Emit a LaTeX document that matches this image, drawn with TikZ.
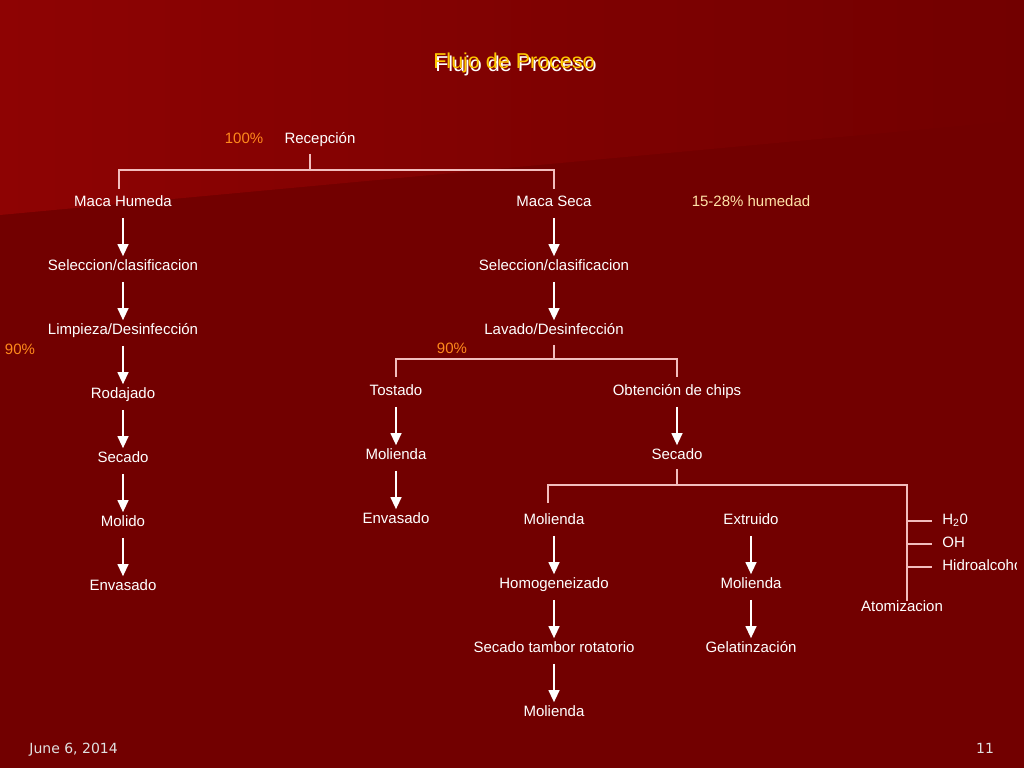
\documentclass[tikz,border=0pt]{standalone}
\usepackage{fontspec}
\setmainfont{Liberation Sans}
\newfontfamily\footfont{DejaVu Sans}
\usetikzlibrary{arrows.meta}
\definecolor{bgdark}{HTML}{720000}
\definecolor{bglight}{HTML}{8E0303}
\definecolor{treecol}{HTML}{F2BDBD}
\definecolor{pct}{HTML}{FF8A1C}
\definecolor{hum}{HTML}{FFE3A8}
\definecolor{titley}{HTML}{FFC800}
\tikzset{every picture/.style={line width=0.75pt}}

\begin{document}
\begin{tikzpicture}[x=1pt,y=-1pt,node distance=64pt,
    every node/.style={text=white,inner sep=0pt,text height=10pt,text depth=3pt,font=\fontsize{15}{17}\selectfont},
    flow/.style={-{Triangle[width=11pt,length=12pt]},draw=white,fill=white,line width=1.3pt,shorten <=8pt,shorten >=4pt},
    tree/.style={draw=treecol,line width=1.4pt},
    pc/.style={text=pct}]
        % background
        \useasboundingbox (0,0) rectangle (1024,768);
        \fill[bgdark] (0,0) rectangle (1024,768);
        \shade[left color=bglight,right color=bgdark] (0,0) -- (1024,0) -- (1024,120) -- (0,215) -- cycle;

        % title
        \node[text=white,font=\fontsize{21.5}{24}\selectfont] (tw) at (516,68) {Flujo de Proceso};
        \node[text=titley,font=\fontsize{21.5}{24}\selectfont] (ty) at (514,65) {Flujo de Proceso};

        \node (rec) at (320,140) {Recepción};
        \node[pc] (p100) at (244,140) {100\%};

        % maca humeda
        \node (mh) at (123,203) {Maca Humeda};
        \node[below of=mh] (sel1) {Seleccion/clasificacion};
        \node[below of=sel1] (lim) {Limpieza/Desinfección};
        \node[below of=lim] (rod) {Rodajado};
        \node[below of=rod] (sec1) {Secado};
        \node[below of=sec1] (mol1) {Molido};
        \node[below of=mol1] (env1) {Envasado};
        \node[pc] (p90a) at (20,351) {90\%};

        % maca seca
        \node (ms) at (554,203) {Maca Seca};
        \node[text=hum] (hmd) at (751,203) {15-28\% humedad};
        \node[below of=ms] (sel2) {Seleccion/clasificacion};
        \node[below of=sel2] (lav) {Lavado/Desinfección};
        \node[pc] (p90b) at (452,350) {90\%};
        \node (tos) at (396,392) {Tostado};
        \node[below of=tos] (mol2) {Molienda};
        \node[below of=mol2] (env2) {Envasado};
        \node (chp) at (677,392) {Obtención de chips};
        \node[below of=chp] (sec2) {Secado};
        \node (mol3) at (554,521) {Molienda};
        \node[below of=mol3] (hom) {Homogeneizado};
        \node[below of=hom] (tam) {Secado tambor rotatorio};
        \node[below of=tam] (mol4) {Molienda};
        \node (ext) at (751,521) {Extruido};
        \node[below of=ext] (mol5) {Molienda};
        \node[below of=mol5] (gel) {Gelatinzación};
        \node (ato) at (902,608) {Atomizacion};
        \node[anchor=west] (h2o) at (942,521) {H\textsubscript{2}0};
        \node[anchor=west] (oh) at (942,544) {OH};
        \begin{scope}
            \clip (0,0) rectangle (1016,768);
            \node[anchor=west] (hid) at (942,567) {Hidroalcohol};
        \end{scope}

        % junctions
        \coordinate (j1) at (310,170);
        \coordinate (j2) at (556,359);
        \coordinate (j3) at (677,485);
        \coordinate (j4) at (907,485);

        \draw[tree] ([xshift=-10pt,yshift=-7pt]rec.south) -- ([xshift=-10pt]rec.south |- j1);
        \draw[tree] ([xshift=-4pt,yshift=7pt]mh.north) |- (j1) -| ([yshift=7pt]ms.north);
        \draw[tree] ([yshift=-7pt]lav.south) -- (lav.south |- j2);
        \draw[tree] ([yshift=8pt]tos.north) |- (j2) -| ([yshift=8pt]chp.north);
        \draw[tree] ([yshift=-6pt]sec2.south) -- (j3);
        \draw[tree] ([xshift=-6pt,yshift=11pt]mol3.north) |- (j4) -- (j4 |- ato.north);
        \draw[tree,shorten >=10pt] (j4 |- h2o) -- (h2o.west);
        \draw[tree,shorten >=10pt] (j4 |- oh) -- (oh.west);
        \draw[tree,shorten >=10pt] (j4 |- hid) -- (hid.west);

        \draw[flow]
            (mh) edge (sel1)
            (sel1) edge (lim)
            (lim) edge (rod)
            (rod) edge (sec1)
            (sec1) edge (mol1)
            (mol1) edge (env1)
            (ms) edge (sel2)
            (sel2) edge (lav)
            (tos) edge (mol2)
            (mol2) edge (env2)
            (chp) edge (sec2)
            (mol3) edge (hom)
            (hom) edge (tam)
            (tam) edge (mol4)
            (ext) edge (mol5)
            (mol5) edge (gel)
            ;

        % footer
        \node[text=white!88!black,font=\footfont\fontsize{14}{16}\selectfont,anchor=west] (date) at (29,750) {June 6, 2014};
        \node[text=white!88!black,font=\footfont\fontsize{14}{16}\selectfont] (pg) at (985,750) {11};
    \end{tikzpicture}
\end{document}
